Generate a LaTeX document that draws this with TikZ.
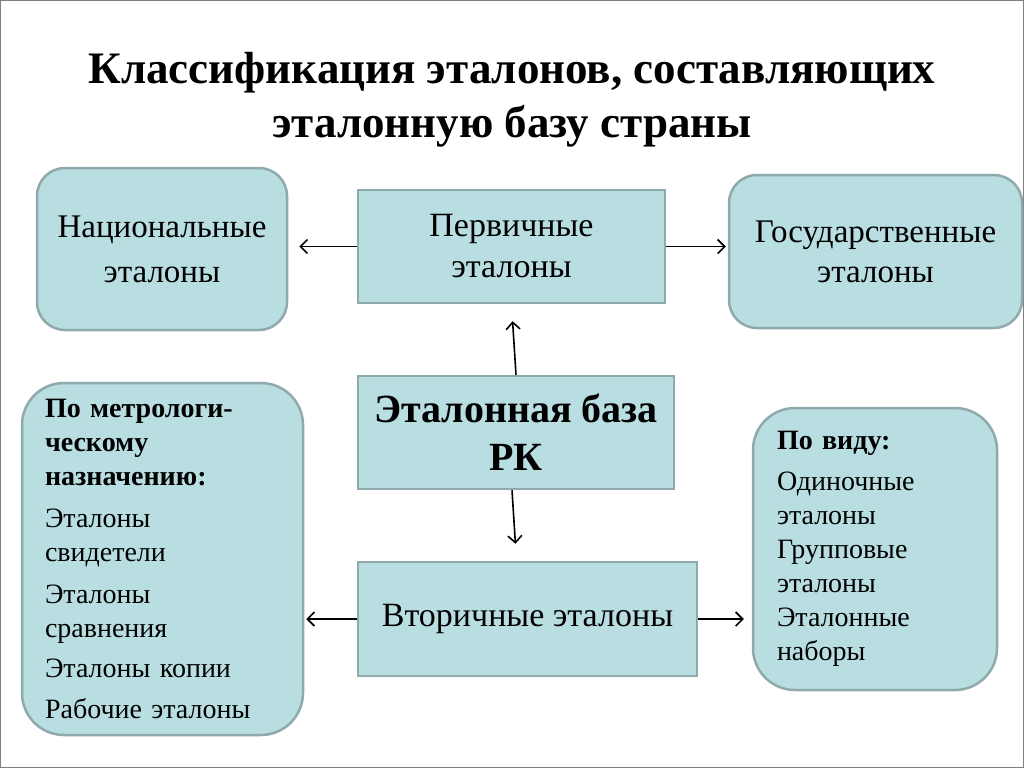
\documentclass[tikz,border=0pt]{standalone}
\usepackage{fontspec}
\setmainfont{Liberation Serif}
\usepackage{tikz}
\usetikzlibrary{shapes}
\usetikzlibrary{arrows.meta}
\usetikzlibrary{positioning}
\definecolor{boxfill}{HTML}{B8DEE1}
\definecolor{boxdraw}{HTML}{8FA9AC}
\tikzstyle{etalon}=[rectangle,draw=boxdraw,fill=boxfill,line width=2.5pt,inner sep=0pt]
\tikzstyle{okrug}=[etalon,rounded corners=28pt,align=center]
\tikzstyle{spisok}=[etalon,rounded corners=42pt,align=left]
\tikzstyle{suite}=[-{Straight Barb[length=7pt,width=14pt]},line width=1.6pt]

\begin{document}
\begin{tikzpicture}[x=1pt,y=-1pt]
\useasboundingbox (0,0) rectangle (1024,768);
\draw[gray,line width=1pt] (0.5,0.5) rectangle (1023.5,767.5);
\node[align=center,font=\fontsize{45}{54}\selectfont\bfseries] (titul) at (512,100)
  {Классификация эталонов, составляющих\\эталонную базу страны};
\node[okrug,minimum width=250pt,minimum height=162pt,font=\fontsize{33}{45}\selectfont] (nat) at (162,249)
  {Национальные\\эталоны};
\node[etalon,align=center,minimum width=307pt,minimum height=113pt,font=\fontsize{34}{41}\selectfont] (perv) at (511.5,246.5)
  {Первичные\\эталоны};
\node[okrug,minimum width=293pt,minimum height=153pt,font=\fontsize{33}{40}\selectfont] (gos) at (875.5,251.5)
  {Государственные\\эталоны};
\node[etalon,align=center,minimum width=316pt,minimum height=113pt,font=\fontsize{40}{48}\selectfont\bfseries] (baza) at (516,432.5)
  {Эталонная база\\РК};
\node[etalon,minimum width=339pt,minimum height=114pt,font=\fontsize{34}{34}\selectfont] (vtor) at (527.5,619)
  {Вторичные эталоны};
\node[spisok,text width=235pt,minimum width=281pt,minimum height=352pt,font=\fontsize{28}{34}\selectfont] (metr) at (162.5,559)
  {\textbf{По метрологи-}\\\textbf{ческому}\\\textbf{назначению:}\\[8pt]
   Эталоны\\свидетели\\[8pt]Эталоны\\сравнения\\[6pt]Эталоны копии\\[7pt]Рабочие эталоны};
\node[spisok,text width=196pt,minimum width=244pt,minimum height=282pt,font=\fontsize{28}{34}\selectfont] (vid) at (875,549)
  {\textbf{По виду:}\\[7pt]Одиночные\\эталоны\\Групповые\\эталоны\\Эталонные\\наборы};
%Drawing Edges
\draw[suite,shorten >=11pt] (perv.west) -- (perv.west -| nat.east);
\draw[suite,shorten >=2pt] (perv.east) -- (perv.east -| gos.west);
\draw[suite,shorten >=17pt] (baza.north) -- (perv.south);
\draw[suite,shorten >=17pt] ([xshift=-4pt]baza.south) -- ([xshift=-11pt]vtor.north);
\draw[suite,shorten >=2pt] (vtor.west) -- (vtor.west -| metr.east);
\draw[suite,shorten >=8pt] (vtor.east) -- (vtor.east -| vid.west);
\end{tikzpicture}
\end{document}
